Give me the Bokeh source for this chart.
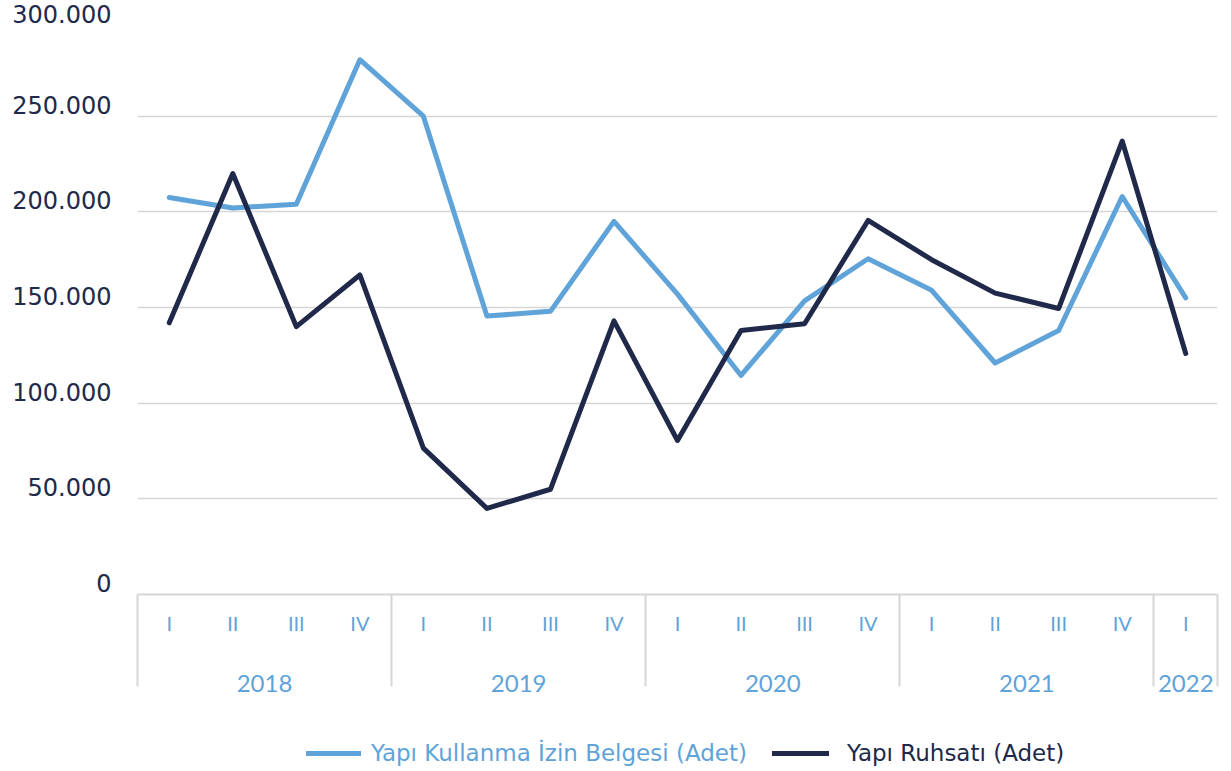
from bokeh.plotting import figure
from bokeh.layouts import column
from bokeh.models import (Range1d, Legend, LegendItem, LinearAxis,
                          CustomJSTickFormatter, ColumnDataSource, FixedTicker)
from bokeh.embed import file_html
from bokeh.resources import INLINE

years = ["2018"] * 4 + ["2019"] * 4 + ["2020"] * 4 + ["2021"] * 4 + ["2022"]
quarters = ["I", "II", "III", "IV"] * 4 + ["I"]
kullanma = [207500, 202000, 204000, 279500, 250000, 145500, 148000, 195000,
            157000, 114500, 153500, 175500, 159000, 121000, 138000, 208000, 155000]
ruhsat = [142000, 220000, 140000, 167000, 76500, 45000, 55000, 143000,
          80500, 138000, 141500, 195500, 175000, 157500, 149500, 237000, 126000]
y_ticks = [0, 50000, 100000, 150000, 200000, 250000, 300000]
label_kullanma = "Yapı Kullanma İzin Belgesi (Adet)"
label_ruhsat = "Yapı Ruhsatı (Adet)"

LIGHT = "#5fa3d9"
DARK = "#20294a"
GRID = "#d6d6d6"
FONT = "Lato"

n = len(quarters)
idx = list(range(n))
src = ColumnDataSource(dict(x=idx, k=kullanma, r=ruhsat))

# group boundaries and year centres derived from the category lists
bounds = [-0.5] + [i - 0.5 for i in range(1, n) if years[i] != years[i - 1]] + [n - 0.5]
uniq_years = []
for y in years:
    if y not in uniq_years:
        uniq_years.append(y)
year_centers = [sum(i for i in idx if years[i] == y) / years.count(y) for y in uniq_years]

p = figure(width=1222, height=712, output_backend="svg", toolbar_location=None,
           x_range=Range1d(-0.5, n - 0.5), y_range=Range1d(0, max(y_ticks)),
           min_border_left=137, min_border_right=5, min_border_top=20,
           min_border_bottom=118)
p.outline_line_color = None

r1 = p.line("x", "k", source=src, line_color=LIGHT, line_width=5,
            line_join="round", line_cap="round")
r2 = p.line("x", "r", source=src, line_color=DARK, line_width=5,
            line_join="round", line_cap="round")

# y axis (labels sit just above their grid line: an empty 2nd line lifts them)
p.yaxis.ticker = FixedTicker(ticks=y_ticks)
p.yaxis.formatter = CustomJSTickFormatter(
    code="return Math.round(tick).toString().replace(/\\B(?=(\\d{3})+(?!\\d))/g, '.') + '\\n ';")
p.yaxis.axis_line_color = None
p.yaxis.major_tick_line_color = None
p.yaxis.minor_tick_line_color = None
p.yaxis.major_tick_out = 0
p.yaxis.major_tick_in = 0
p.yaxis.major_label_text_font = "DejaVu Sans"
p.yaxis.major_label_text_font_size = "24px"
p.yaxis.major_label_text_line_height = 0.75
p.yaxis.major_label_text_color = DARK
p.yaxis.major_label_standoff = 26
p.ygrid.grid_line_color = GRID
p.ygrid.grid_line_width = 1.5
p.xgrid.grid_line_color = None

# x axis: quarters + group separators (minor ticks at group boundaries)
SEP = 92
xa = p.xaxis[0]
xa.ticker = FixedTicker(ticks=idx, minor_ticks=bounds)
xa.major_label_overrides = {i: q for i, q in zip(idx, quarters)}
xa.axis_line_color = GRID
xa.axis_line_width = 2
xa.major_tick_line_color = None
xa.major_tick_out = 0
xa.major_tick_in = 0
xa.minor_tick_line_color = GRID
xa.minor_tick_line_width = 2
xa.minor_tick_out = SEP
xa.minor_tick_in = 0
xa.major_label_text_font = FONT
xa.major_label_text_font_size = "20px"
xa.major_label_text_color = LIGHT
xa.major_label_standoff = 16 - SEP

# x axis: years
ya = LinearAxis(ticker=FixedTicker(ticks=year_centers, minor_ticks=[]),
                major_label_overrides={c: y for c, y in zip(year_centers, uniq_years)})
ya.axis_line_color = None
ya.major_tick_line_color = None
ya.minor_tick_line_color = None
ya.major_tick_out = 0
ya.major_tick_in = 0
ya.major_label_text_font = FONT
ya.major_label_text_font_size = "24px"
ya.major_label_text_color = LIGHT
ya.major_label_standoff = 37
p.add_layout(ya, "below")

# legend strip (lines drawn from the same data, all far outside this strip's range)
p2 = figure(width=1222, height=56, output_backend="svg", toolbar_location=None,
            x_range=Range1d(0, 1), y_range=Range1d(0, 1),
            min_border_left=0, min_border_right=0, min_border_top=0, min_border_bottom=0)
p2.axis.visible = False
p2.grid.visible = False
p2.outline_line_color = None
l1 = p2.line("x", "k", source=src, line_color=LIGHT, line_width=5, line_cap="round")
l2 = p2.line("x", "r", source=src, line_color=DARK, line_width=5, line_cap="round")

LEG_FONT = "DejaVu Sans"
leg1 = Legend(items=[LegendItem(label=label_kullanma, renderers=[l1])],
              location=(169, 2), orientation="horizontal",
              label_text_font=LEG_FONT, label_text_font_size="23px", label_text_color=LIGHT,
              glyph_width=55, glyph_height=20, label_standoff=10, padding=0, margin=0,
              border_line_color=None, background_fill_alpha=0)
leg2 = Legend(items=[LegendItem(label=label_ruhsat, renderers=[l2])],
              location=(635, 2), orientation="horizontal",
              label_text_font=LEG_FONT, label_text_font_size="23px", label_text_color=DARK,
              glyph_width=57, glyph_height=20, label_standoff=18, padding=0, margin=0,
              border_line_color=None, background_fill_alpha=0)
p2.add_layout(leg1)
p2.add_layout(leg2)

layout = column(p, p2, spacing=0)
open("out.html", "w").write(file_html(layout, INLINE))
